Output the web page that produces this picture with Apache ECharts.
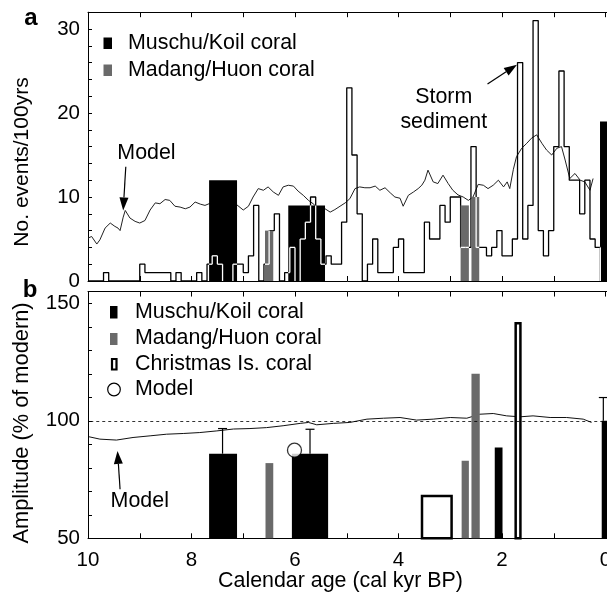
<!DOCTYPE html>
<html>
<head>
<meta charset="utf-8">
<script src="https://cdn.jsdelivr.net/npm/echarts@6/dist/echarts.min.js"></script>
<style>
html,body{margin:0;padding:0;background:#fff;}
#chart{width:607px;height:593px;}
</style>
</head>
<body>
<div id="chart"></div>
<script>
// ---------------- DATA ----------------
// Panel a: storm sediment events per 100 yr (bin start ages, kyr BP; last entry closes final bin)
const stormAge = [
10.0,9.9,9.8,9.7,9.6,9.5,9.4,9.3,9.2,9.1,
9.0,8.9,8.8,8.7,8.6,8.5,8.4,8.3,8.2,8.1,
8.0,7.9,7.8,7.7,7.6,7.5,7.4,7.3,7.2,7.1,
7.0,6.9,6.8,6.7,6.6,6.5,6.4,6.3,6.2,6.1,
6.0,5.9,5.8,5.7,5.6,5.5,5.4,5.3,5.2,5.1,
5.0,4.9,4.8,4.7,4.6,4.5,4.4,4.3,4.2,4.1,
4.0,3.9,3.8,3.7,3.6,3.5,3.4,3.3,3.2,3.1,
3.0,2.9,2.8,2.7,2.6,2.5,2.4,2.3,2.2,2.1,
2.0,1.9,1.8,1.7,1.6,1.5,1.4,1.3,1.2,1.1,
1.0,0.9,0.8,0.7,0.6,0.5,0.4,0.3,0.2,0.1];
const stormCount = [
0,0,0,1,0,0,0,0,0,0,
2,1,1,1,1,1,0,1,0,0,
0,1,0,2,3,2,0,0,2,2,
1,3,9,0,2,6,8,0,1,4,
0,5,7,10,5,2,3,2,2,7,
23,15,8,0,2,5,1,1,1,4,
5,1,1,1,1,7,5,5,9,7,
10,10,4,4,16,4,4,3,4,6,
3,3,5,26,5,9,31,6,3,6,
16,25,16,12,12,8,12,5,4];

// Panel a: model (events/100yrs)
const modelAAge = [10.0,9.93,9.83,9.77,9.67,9.57,9.48,9.42,9.38,9.32,9.28,9.19,9.09,9.0,8.9,8.8,8.7,8.61,8.51,8.42,8.32,8.22,8.12,8.03,7.93,7.83,7.74,7.66,7.4,7.12,7.0,6.9,6.81,6.71,6.61,6.52,6.42,6.32,6.23,6.13,6.03,5.94,5.84,5.74,5.65,5.55,5.42,5.32,5.23,5.13,5.03,4.94,4.84,4.75,4.65,4.55,4.45,4.36,4.26,4.16,4.07,3.97,3.91,3.81,3.71,3.62,3.55,3.49,3.43,3.33,3.24,3.14,3.04,2.95,2.85,2.75,2.65,2.56,2.46,2.36,2.27,2.17,2.07,1.97,1.9,1.85,1.78,1.72,1.62,1.52,1.43,1.33,1.23,1.14,1.04,0.94,0.85,0.78,0.69,0.59,0.49,0.40,0.30,0.24];
const modelAVal = [5.1,5.3,4.4,4.9,6.3,6.9,6.5,6.3,6.0,7.6,8.4,7.5,7.1,6.9,7.2,8.45,9.3,9.2,9.7,9.6,8.9,8.8,8.6,8.8,9.4,9.15,9.0,9.2,9.5,9.05,8.45,8.9,10.0,11.0,10.8,11.2,10.6,10.2,11.2,11.4,11.3,10.7,10.2,9.6,9.2,8.6,8.6,8.2,8.5,8.9,9.3,9.8,11.0,11.2,11.1,11.1,11.3,10.8,11.1,10.5,10.0,9.85,8.9,10.2,10.6,11.0,11.4,12.0,13.2,11.8,11.6,12.6,11.6,10.8,10.25,10.0,9.6,10.0,11.5,11.4,11.0,11.4,12.0,11.2,11.8,11.0,13.3,14.8,15.8,16.4,17.0,17.4,16.4,15.6,15.0,15.8,16.0,14.4,12.2,12.8,12.0,11.8,10.8,12.2];

// Panel a coral records: [older age, younger age, events/100yrs]
const muschuA = [[7.66,7.12,12],[6.13,5.42,9],[0.106,-0.3,19]];
const madangA = [[6.58,6.42,6],[2.80,2.64,9],[2.59,2.44,10]];

// Panel b: amplitude (% of modern)
const muschuB = [[7.66,7.12,86],[6.06,5.36,86],[2.14,1.99,88.6],[0.073,-0.3,100]];
const muschuErrB = [[7.40,86,96.7],[5.71,86,96.4],[0.042,100,109.9]];
const madangB = [[6.57,6.42,82],[2.78,2.64,83],[2.59,2.43,120]];
const christmasB = [[3.57,2.95,68.5],[1.76,1.62,142]];
const modelPointB = [[6.01,87.5]];
const modelBAge = [9.98,9.77,9.45,9.13,8.8,8.48,8.16,7.84,7.51,7.19,6.87,6.55,6.23,5.9,5.74,5.58,5.26,4.94,4.61,4.29,3.97,3.65,3.33,3.0,2.68,2.43,2.17,1.91,1.65,1.4,1.07,0.75,0.43,0.27];
const modelBVal = [93.2,92.2,91.8,92.9,93.6,94.3,94.6,95.0,95.7,96.5,96.7,97.1,97.9,98.9,99.3,98.3,98.9,99.3,100.7,101.1,101.4,100.3,100.7,101.4,101.1,102.8,103.1,102.1,101.7,102.1,101.4,101.4,100.7,99.3];
const modernLevel = 100;

// Annotations (data coordinates): text position, arrow tail, arrow tip
const annotA = [
  {text:'Model', tx:8.87, ty:15.2, ax:9.27, ay:13.6, bx:9.32, by:8.4},
  {text:'Storm\nsediment', tx:3.125, ty:20.45, ax:2.28, ay:23.45, bx:1.71, by:25.75}
];
const annotB = [
  {text:'Model', tx:9.0, ty:66.0, ax:9.38, ay:70.9, bx:9.43, by:87.2}
];

// ---------------- CHART ----------------
const FONT = '"Liberation Sans", Arial, Helvetica, sans-serif';
const GRAY = '#6a6a6a';
const TXT = 21.4;
const chart = echarts.init(document.getElementById('chart'), null, {renderer:'canvas'});

function zip(a, b){ return a.map((v,i)=>[v,b[i]]); }

function stormOverlay(api, xa, xb, h){
  const out = [];
  const n = stormCount.length;
  for (let i = 0; i < n; i++){
    const a = stormAge[i], b = stormAge[i+1], v = stormCount[i];
    const vn = i+1 < n ? stormCount[i+1] : 0;
    const hi = Math.min(a, xa), lo = Math.max(b, xb);
    if (hi > lo && v > 0 && v < h){
      const p = api.coord([hi, v]), q = api.coord([lo, v]);
      out.push({type:'line', shape:{x1:p[0],y1:p[1],x2:q[0],y2:q[1]}, style:{stroke:'#fff', lineWidth:1.3}});
    }
    if (b < xa && b > xb){
      const y0 = Math.min(v, vn), y1 = Math.min(Math.max(v, vn), h);
      if (y1 > y0){
        const p = api.coord([b, y0]), q = api.coord([b, y1]);
        out.push({type:'line', shape:{x1:p[0],y1:p[1],x2:q[0],y2:q[1]}, style:{stroke:'#fff', lineWidth:1.3}});
      }
    }
  }
  return out;
}

function barRenderer(fill, open, base, overlay){
  return function(params, api){
    const xa = api.value(0), xb = api.value(1), h = api.value(2);
    const p0 = api.coord([xa, h]), p1 = api.coord([xb, base]);
    const x = Math.min(p0[0], p1[0]), w = Math.abs(p1[0]-p0[0]);
    const y = p0[1], hh = p1[1]-p0[1];
    const children = [];
    if (open){
      children.push({type:'rect', shape:{x:x+1.25, y:y+1.25, width:w-2.5, height:hh-1.25},
        style:{fill:'#fff', stroke:'#000', lineWidth:2.5}});
    } else {
      children.push({type:'rect', shape:{x:x, y:y, width:w, height:hh}, style:{fill:fill}});
    }
    if (overlay){
      stormOverlay(api, xa, xb, h).forEach(c=>children.push(c));
    }
    return {type:'group', children:children};
  };
}

function errRenderer(params, api){
  const x = api.value(0), lo = api.value(1), hi = api.value(2);
  const pl = api.coord([x, lo]), ph = api.coord([x, hi]);
  return {type:'group', children:[
    {type:'line', shape:{x1:pl[0],y1:pl[1],x2:ph[0],y2:ph[1]}, style:{stroke:'#000', lineWidth:1.2}},
    {type:'line', shape:{x1:ph[0]-4.5,y1:ph[1],x2:ph[0]+4.5,y2:ph[1]}, style:{stroke:'#000', lineWidth:1.2}}
  ]};
}

function annotRenderer(list){
  return function(params, api){
    const a = list[params.dataIndex];
    const t = api.coord([api.value(0), api.value(1)]);
    const p = api.coord([api.value(2), api.value(3)]);
    const q = api.coord([api.value(4), api.value(5)]);
    let dx = q[0]-p[0], dy = q[1]-p[1];
    const L = Math.sqrt(dx*dx+dy*dy); dx/=L; dy/=L;
    const hl = 13, hw = 4.5;
    const bx = q[0]-dx*hl, by = q[1]-dy*hl;
    const nx = -dy, ny = dx;
    return {type:'group', children:[
      {type:'line', shape:{x1:p[0],y1:p[1],x2:bx,y2:by}, style:{stroke:'#000', lineWidth:1.2}},
      {type:'polygon', shape:{points:[[q[0],q[1]],[bx+nx*hw,by+ny*hw],[bx-nx*hw,by-ny*hw]]}, style:{fill:'#000'}},
      {type:'text', style:{text:a.text, x:t[0], y:t[1], align:'center', verticalAlign:'middle',
        fontSize:TXT, fontFamily:FONT, fill:'#000', lineHeight:25}}
    ]};
  };
}

function xAx(grid, pos, labels){
  return {
    gridIndex:grid, type:'value', min:-1, max:10, interval:1, inverse:true, position:pos,
    axisLine:{show:true, onZero:false, lineStyle:{color:'#000', width:1}},
    axisTick:{show:true, inside:true, length:5, lineStyle:{color:'#000', width:1}},
    axisLabel:{show:labels, margin:12, fontSize:20.5, fontFamily:FONT, color:'#000',
      formatter:function(v){ return (v>=0 && v%2===0) ? String(v) : ''; }},
    splitLine:{show:false}
  };
}

const option = {
  animation:false,
  backgroundColor:'#fff',
  grid:[
    {left:88, top:12.2, width:569.25, height:268.8, containLabel:false, outerBoundsMode:'none'},
    {left:88, top:291.55, width:569.25, height:246.75, containLabel:false, outerBoundsMode:'none'}
  ],
  xAxis:[ xAx(0,'bottom',false), xAx(0,'top',false), xAx(1,'bottom',true), xAx(1,'top',false) ],
  yAxis:[
    {gridIndex:0, type:'value', min:0, max:32, interval:2,
      axisLine:{show:true, onZero:false, lineStyle:{color:'#000', width:1}},
      axisTick:{show:true, inside:true, length:4, lineStyle:{color:'#000'}},
      axisLabel:{margin:8, fontSize:20.5, fontFamily:FONT, color:'#000',
        formatter:function(v){ return v%10===0 ? String(v) : ''; }},
      splitLine:{show:false}},
    {gridIndex:1, type:'value', min:50, max:155, interval:10,
      axisLine:{show:true, onZero:false, lineStyle:{color:'#000', width:1}},
      axisTick:{show:true, inside:true, length:4, lineStyle:{color:'#000'}},
      axisLabel:{margin:8, fontSize:20.5, fontFamily:FONT, color:'#000',
        formatter:function(v){ return (v%50===0 && v<=150) ? String(v) : ''; }},
      splitLine:{show:false}}
  ],
  series:[
    {type:'line', name:'Model a', xAxisIndex:0, yAxisIndex:0, data:zip(modelAAge, modelAVal),
      showSymbol:false, symbol:'none', lineStyle:{color:'#222', width:1}, z:1},
    {type:'line', name:'Storm sediment', xAxisIndex:0, yAxisIndex:0, step:'end',
      data:stormAge.map((a,i)=>[a, i<stormCount.length ? stormCount[i] : 0]),
      showSymbol:false, symbol:'none', lineStyle:{color:'#000', width:1.3}, z:2},
    {type:'custom', name:'Muschu/Koil coral a', xAxisIndex:0, yAxisIndex:0, data:muschuA,
      encode:{x:[0,1], y:2}, renderItem:barRenderer('#000', false, 0, true), z:3},
    {type:'custom', name:'Madang/Huon coral a', xAxisIndex:0, yAxisIndex:0, data:madangA,
      encode:{x:[0,1], y:2}, renderItem:barRenderer(GRAY, false, 0, true), z:3},
    {type:'custom', name:'annot a', xAxisIndex:0, yAxisIndex:0,
      data:annotA.map(a=>[a.tx,a.ty,a.ax,a.ay,a.bx,a.by]), encode:{x:0, y:1},
      renderItem:annotRenderer(annotA), z:4, clip:false},

    {type:'line', name:'Model b', xAxisIndex:2, yAxisIndex:1, data:zip(modelBAge, modelBVal),
      showSymbol:false, symbol:'none', lineStyle:{color:'#111', width:1}, z:1,
      markLine:{silent:true, symbol:'none', label:{show:false},
        lineStyle:{type:[3,3], color:'#000', width:0.8}, data:[{yAxis:modernLevel}]}},
    {type:'custom', name:'Muschu/Koil coral b', xAxisIndex:2, yAxisIndex:1, data:muschuB,
      encode:{x:[0,1], y:2}, renderItem:barRenderer('#000', false, 50, false), z:3},
    {type:'custom', name:'Muschu err b', xAxisIndex:2, yAxisIndex:1, data:muschuErrB,
      encode:{x:0, y:[1,2]}, renderItem:errRenderer, z:3},
    {type:'custom', name:'Madang/Huon coral b', xAxisIndex:2, yAxisIndex:1, data:madangB,
      encode:{x:[0,1], y:2}, renderItem:barRenderer(GRAY, false, 50, false), z:3},
    {type:'custom', name:'Christmas Is. coral', xAxisIndex:2, yAxisIndex:1, data:christmasB,
      encode:{x:[0,1], y:2}, renderItem:barRenderer('#fff', true, 50, false), z:3},
    {type:'scatter', name:'Model point', xAxisIndex:2, yAxisIndex:1, data:modelPointB,
      symbol:'circle', symbolSize:14, itemStyle:{color:'#fff', borderColor:'#000', borderWidth:1.3}, z:4},
    {type:'custom', name:'annot b', xAxisIndex:2, yAxisIndex:1,
      data:annotB.map(a=>[a.tx,a.ty,a.ax,a.ay,a.bx,a.by]), encode:{x:0, y:1},
      renderItem:annotRenderer(annotB), z:4, clip:false}
  ],
  graphic:[
    {type:'text', x:31, y:18, style:{text:'a', fontSize:24, fontWeight:'bold', fontFamily:FONT, fill:'#000', align:'center', verticalAlign:'middle'}},
    {type:'text', x:30, y:290, style:{text:'b', fontSize:24, fontWeight:'bold', fontFamily:FONT, fill:'#000', align:'center', verticalAlign:'middle'}},
    {type:'text', x:22, y:162, rotation:Math.PI/2, style:{text:'No. events/100yrs', fontSize:21, fontFamily:FONT, fill:'#000', align:'center', verticalAlign:'middle'}},
    {type:'text', x:22, y:423, rotation:Math.PI/2, style:{text:'Amplitude (% of modern)', fontSize:21.8, fontFamily:FONT, fill:'#000', align:'center', verticalAlign:'middle'}},
    {type:'text', x:340.5, y:581.5, style:{text:'Calendar age (cal kyr BP)', fontSize:TXT, fontFamily:FONT, fill:'#000', align:'center', verticalAlign:'middle'}},
    // legend a
    {type:'rect', shape:{x:103.5, y:37.5, width:8.5, height:11.5}, style:{fill:'#000'}},
    {type:'text', x:128, y:43.5, style:{text:'Muschu/Koil coral', fontSize:TXT, fontFamily:FONT, fill:'#000', align:'left', verticalAlign:'middle'}},
    {type:'rect', shape:{x:103.5, y:64.5, width:8.5, height:11.5}, style:{fill:GRAY}},
    {type:'text', x:128, y:70, style:{text:'Madang/Huon coral', fontSize:TXT, fontFamily:FONT, fill:'#000', align:'left', verticalAlign:'middle'}},
    // legend b
    {type:'rect', shape:{x:110, y:306, width:7.5, height:12.5}, style:{fill:'#000'}},
    {type:'text', x:135, y:312, style:{text:'Muschu/Koil coral', fontSize:TXT, fontFamily:FONT, fill:'#000', align:'left', verticalAlign:'middle'}},
    {type:'rect', shape:{x:110, y:333, width:7.5, height:12}, style:{fill:GRAY}},
    {type:'text', x:135, y:338.5, style:{text:'Madang/Huon coral', fontSize:TXT, fontFamily:FONT, fill:'#000', align:'left', verticalAlign:'middle'}},
    {type:'rect', shape:{x:112, y:359, width:4.5, height:10.5}, style:{fill:'#fff', stroke:'#000', lineWidth:2.2}},
    {type:'text', x:135, y:364.5, style:{text:'Christmas Is. coral', fontSize:TXT, fontFamily:FONT, fill:'#000', align:'left', verticalAlign:'middle'}},
    {type:'circle', shape:{cx:114, cy:389.5, r:6.3}, style:{fill:'#fff', stroke:'#000', lineWidth:1.2}},
    {type:'text', x:135, y:389.5, style:{text:'Model', fontSize:TXT, fontFamily:FONT, fill:'#000', align:'left', verticalAlign:'middle'}}
  ]
};
chart.setOption(option);
</script>
</body>
</html>
